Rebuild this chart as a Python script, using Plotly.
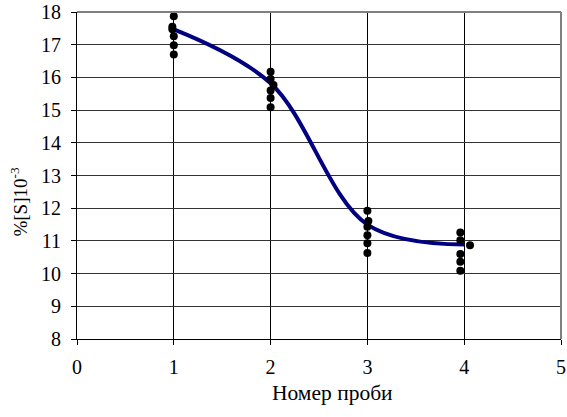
import plotly.graph_objects as go

# Measured points (sample number, %[S]*10^-3)
sample_x = [1, 0.985, 0.985, 1, 1, 1,
            2, 2, 2.03, 2, 2, 2,
            3, 3.01, 3, 3, 3, 3,
            3.96, 3.96, 4.06, 3.96, 3.96, 3.96]
sample_y = [17.87, 17.55, 17.47, 17.26, 16.98, 16.7,
            16.17, 15.95, 15.77, 15.6, 15.37, 15.09,
            11.92, 11.61, 11.43, 11.17, 10.93, 10.63,
            11.26, 11.02, 10.87, 10.6, 10.36, 10.09]

# Smoothed trend line
curve_x = [1, 2, 3, 4]
curve_y = [17.47, 15.82, 11.5, 10.89]

x_ticks = [0, 1, 2, 3, 4, 5]
y_ticks = [8, 9, 10, 11, 12, 13, 14, 15, 16, 17, 18]

x_title = "Номер проби"
y_title = "%[S]10<sup>-3</sup>"

font_family = "Liberation Serif, Times New Roman, serif"
tick_font = dict(family=font_family, size=20, color="black")

fig = go.Figure()
fig.add_trace(go.Scatter(
    x=curve_x, y=curve_y, mode="lines",
    line=dict(color="#000080", width=4, shape="spline", smoothing=1.0),
    showlegend=False, hoverinfo="skip"))
fig.add_trace(go.Scatter(
    x=sample_x, y=sample_y, mode="markers",
    marker=dict(color="black", size=8, symbol="circle"),
    showlegend=False))

fig.update_layout(
    width=567, height=417,
    margin=dict(l=77, r=6, t=12, b=78),
    paper_bgcolor="white", plot_bgcolor="white",
    font=dict(family=font_family, size=20, color="black"),
    xaxis=dict(range=[0, 5], tickvals=x_ticks, showgrid=True, gridcolor="black", gridwidth=1,
               showline=True, linecolor="black", linewidth=1, ticks="outside", ticklen=5,
               tickcolor="black", zeroline=False, automargin=False, tickfont=tick_font,
               ticklabelstandoff=5),
    yaxis=dict(range=[8, 18], tickvals=y_ticks, showgrid=True, gridcolor="#333333", gridwidth=1,
               showline=True, linecolor="black", linewidth=1, ticks="outside", ticklen=5,
               tickcolor="black", zeroline=False, automargin=False, tickfont=tick_font,
               ticklabelstandoff=6),
)
# axis titles (placed like the original, slightly off-centre)
fig.add_annotation(text=x_title, xref="paper", yref="paper", x=0.527, y=-0.165,
                   xanchor="center", yanchor="middle", showarrow=False,
                   font=dict(family=font_family, size=21.5, color="black"))
fig.add_annotation(text=y_title, xref="paper", yref="paper", x=-0.12, y=0.42,
                   xanchor="center", yanchor="middle", showarrow=False, textangle=-90,
                   font=dict(family=font_family, size=19, color="black"))
# gray top and right border
fig.add_shape(type="line", xref="paper", yref="paper", x0=0, x1=1, y0=1, y1=1,
              line=dict(color="#808080", width=2))
fig.add_shape(type="line", xref="paper", yref="paper", x0=1, x1=1, y0=0, y1=1,
              line=dict(color="#808080", width=2))

fig.write_html("out.html", config={"displayModeBar": False},
               post_script="document.body.style.margin='0';document.body.style.overflow='hidden';")
